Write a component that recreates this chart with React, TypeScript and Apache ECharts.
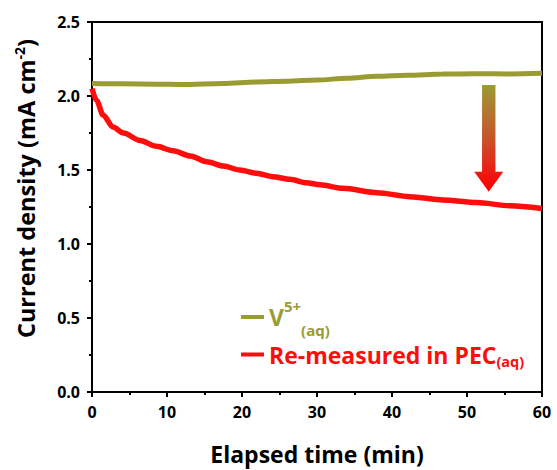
import React, { useEffect, useRef } from "react";
import * as echarts from "echarts";

const greenTime = [0, 4, 8.6, 12, 17.5, 22, 26, 30, 34, 38, 42, 46.8, 51, 55.7, 60];
const greenValues = [2.085, 2.082, 2.08, 2.078, 2.085, 2.095, 2.1, 2.108, 2.12, 2.133, 2.14, 2.148, 2.15, 2.149, 2.153];

const redTime = [0, 0.6, 1.5, 2.8, 4.2, 6.4, 8.6, 10.8, 13.1, 15.3, 17.5, 19.7, 21.9, 24.1, 26.4, 28.6, 30.4, 33.5, 38, 42.4, 46.8, 51.3, 55.7, 60];
const redValues = [2.05, 1.97, 1.87, 1.79, 1.75, 1.7, 1.66, 1.63, 1.595, 1.556, 1.527, 1.5, 1.478, 1.455, 1.437, 1.414, 1.4, 1.376, 1.347, 1.32, 1.297, 1.28, 1.259, 1.24];

const seriesNames = ["V5+(aq)", "Re-measured in PEC(aq)"];
const xTicks = [0, 10, 20, 30, 40, 50, 60];
const yTicks = [0, 0.5, 1.0, 1.5, 2.0, 2.5];

// arrow annotation in data coordinates: x, then [yTop, yHeadStart, yTip]
const arrowX = 52.9;
const arrowYs = [2.074, 1.488, 1.353];

const OLIVE = "#9b9b33";
const RED = "#ff0c0c";
const FONT = "Open Sans";

export default function App() {
  const ref = useRef<HTMLDivElement>(null);
  useEffect(() => {
    if (!ref.current) return;
    const chart = echarts.init(ref.current, null, { renderer: "svg" });
    const option: any = {
      animation: false,
      backgroundColor: "#ffffff",
      textStyle: { fontFamily: FONT, fontWeight: "bold" },
      grid: {
        left: 92,
        right: 15,
        top: 22,
        bottom: 78,
        show: true,
        borderColor: "#000",
        borderWidth: 2,
        backgroundColor: "transparent",
      },
      xAxis: {
        type: "value",
        min: 0,
        max: 60,
        interval: 10,
        name: "Elapsed time (min)",
        nameLocation: "middle",
        nameGap: 50,
        nameTextStyle: { fontSize: 23, fontWeight: "bold", color: "#000", fontFamily: FONT },
        axisLine: { lineStyle: { color: "#000", width: 2 } },
        axisTick: { show: true, inside: false, length: 5, lineStyle: { width: 2 } },
        minorTick: { show: true, splitNumber: 2, length: 3, lineStyle: { color: "#000", width: 2 } },
        splitLine: { show: false },
        axisLabel: {
          fontSize: 16,
          fontWeight: "bold",
          color: "#000",
          margin: 12,
          fontFamily: FONT,
          formatter: (v: number) => (xTicks.includes(v) ? String(v) : ""),
        },
      },
      yAxis: {
        type: "value",
        min: 0,
        max: 2.5,
        interval: 0.5,
        name: "{n|Current density (mA cm}{s|-2}{n|)}",
        nameLocation: "middle",
        nameGap: 52,
        nameTextStyle: {
          color: "#000",
          padding: [0, 0, 0, 37],
          rich: {
            n: { fontSize: 23.5, fontWeight: "bold", fontFamily: FONT, color: "#000", lineHeight: 28 },
            s: { fontSize: 14, fontWeight: "bold", fontFamily: FONT, color: "#000", verticalAlign: "top", lineHeight: 16 },
          },
        },
        axisLine: { show: true, lineStyle: { color: "#000", width: 2 } },
        axisTick: { show: true, inside: false, length: 5, lineStyle: { width: 2 } },
        minorTick: { show: true, splitNumber: 2, length: 3, lineStyle: { color: "#000", width: 2 } },
        splitLine: { show: false },
        axisLabel: {
          fontSize: 16,
          fontWeight: "bold",
          color: "#000",
          margin: 12,
          fontFamily: FONT,
          formatter: (v: number) => {
            const t = yTicks.find((y) => Math.abs(y - v) < 1e-6);
            return t === undefined ? "" : t.toFixed(1);
          },
        },
      },
      legend: {
        orient: "vertical",
        left: 241,
        top: 297,
        padding: 0,
        itemWidth: 23,
        itemHeight: 4,
        itemGap: 6,
        icon: "rect",
        data: seriesNames,
        formatter: (name: string) =>
          name === seriesNames[0]
            ? "{g|V}{gs|5+}{gb|(aq)}"
            : "{r|Re-measured in PEC}{rb|(aq)}",
        textStyle: {
          rich: {
            g: { fontSize: 23, fontWeight: "bold", fontFamily: FONT, color: OLIVE, lineHeight: 40 },
            gs: { fontSize: 15, fontWeight: "bold", fontFamily: FONT, color: OLIVE, verticalAlign: "top", lineHeight: 15, padding: [1, 0, 0, 0] },
            gb: { fontSize: 15, fontWeight: "bold", fontFamily: FONT, color: OLIVE, verticalAlign: "bottom", lineHeight: 19 },
            r: { fontSize: 23, fontWeight: "bold", fontFamily: FONT, color: RED, lineHeight: 28 },
            rb: { fontSize: 14.5, fontWeight: "bold", fontFamily: FONT, color: RED, verticalAlign: "bottom", lineHeight: 16 },
          },
        },
      },
      series: [
        {
          name: seriesNames[0],
          type: "line",
          showSymbol: false,
          smooth: 0.3,
          smoothMonotone: "x",
          color: OLIVE,
          lineStyle: { width: 5, color: OLIVE },
          data: greenTime.map((t, i) => [t, greenValues[i]]),
          z: 3,
        },
        {
          name: seriesNames[1],
          type: "line",
          showSymbol: false,
          smooth: 0.3,
          smoothMonotone: "x",
          color: RED,
          lineStyle: { width: 5.5, color: RED },
          data: redTime.map((t, i) => [t, redValues[i]]),
          z: 3,
        },
      ],
    };
    chart.setOption(option);

    const top = chart.convertToPixel({ gridIndex: 0 }, [arrowX, arrowYs[0]]);
    const head = chart.convertToPixel({ gridIndex: 0 }, [arrowX, arrowYs[1]]);
    const tip = chart.convertToPixel({ gridIndex: 0 }, [arrowX, arrowYs[2]]);
    const cx = top[0];
    const sw = 6.7;
    const hw = 14.5;
    chart.setOption({
      graphic: [
        {
          type: "polygon",
          z: 10,
          shape: {
            points: [
              [cx - sw, top[1]],
              [cx + sw, top[1]],
              [cx + sw, head[1]],
              [cx + hw, head[1]],
              [cx, tip[1]],
              [cx - hw, head[1]],
              [cx - sw, head[1]],
            ],
          },
          style: {
            fill: new echarts.graphic.LinearGradient(0, 0, 0, 1, [
              { offset: 0, color: "#9b9b33" },
              { offset: 0.5, color: "#c8542a" },
              { offset: 0.85, color: "#f0140f" },
              { offset: 1, color: "#ff0000" },
            ]),
          },
        },
      ],
    });

    return () => chart.dispose();
  }, []);
  return <div ref={ref} style={{ position: "absolute", left: 0, top: 0, width: 557, height: 470 }} />;
}
